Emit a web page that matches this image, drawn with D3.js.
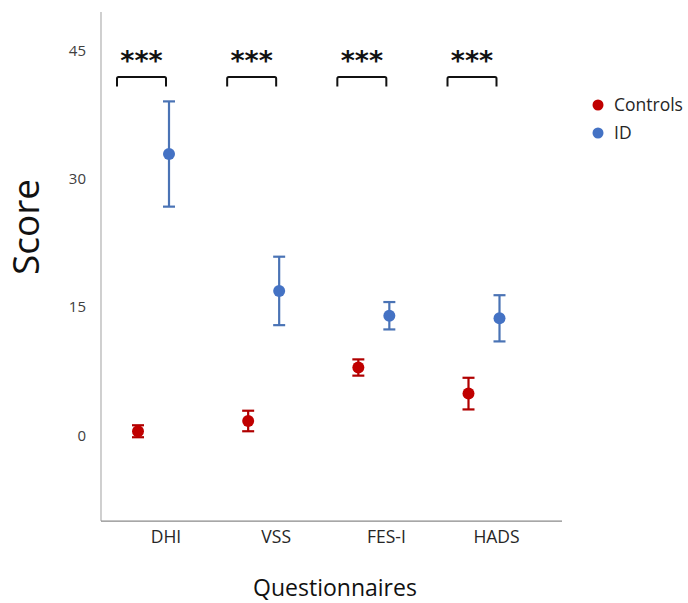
<!DOCTYPE html>
<html>
<head>
<meta charset="utf-8">
<script src="https://cdn.jsdelivr.net/npm/d3@7"></script>
<style>
  body { margin: 0; background: #fff; }
  svg text { font-family: 'Open Sans', sans-serif; }
</style>
</head>
<body>
<div id="chart"></div>
<script>
// データ
var categories = ['DHI', 'VSS', 'FES-I', 'HADS']
var seriesNames = ['Controls', 'ID']
var controlsMean = [0.5, 1.7, 7.95, 4.9]
var controlsErr = [0.7, 1.2, 0.95, 1.85]
var idMean = [32.9, 16.9, 14.0, 13.7]
var idErr = [6.15, 4.0, 1.6, 2.7]
var yTicks = [0, 15, 30, 45]
var sigLabels = ['***', '***', '***', '***']
var sigLevel = 41.9

var width = 688, height = 603
var colors = { Controls: '#C00000', ID: '#4472C4' }
var barColors = { Controls: '#B00000', ID: '#4A73B5' }

var svg = d3.select('#chart')
  .append('svg')
  .attr('width', width)
  .attr('height', height)

// スケール
var y = d3.scaleLinear().domain([-10, 50]).range([521.1, 7.7])
var x = d3.scalePoint().domain(categories).range([153.5, 484])
var xs = d3.scalePoint().domain(seriesNames).range([-15.5, 15.5])

var axisLeft = 101, axisRight = 562

// 軸線
svg.append('line')
  .attr('x1', axisLeft).attr('x2', axisLeft)
  .attr('y1', 12).attr('y2', y(-10))
  .attr('stroke', '#b0b0b0').attr('stroke-width', 1.2)

svg.append('line')
  .attr('x1', axisLeft).attr('x2', axisRight)
  .attr('y1', y(-10)).attr('y2', y(-10))
  .attr('stroke', '#8a8a8a').attr('stroke-width', 1.2)

// y tick labels
var yAxis = d3.axisLeft(y).tickValues(yTicks).tickSize(0).tickPadding(15)
var gy = svg.append('g')
  .attr('transform', 'translate(' + axisLeft + ',0)')
  .call(yAxis)
gy.select('.domain').remove()
gy.selectAll('text')
  .style('font-family', "'Open Sans', sans-serif")
  .style('font-size', '15px')
  .attr('fill', '#404040')

// x tick labels (ペアの中心より少し右)
var xAxis = d3.axisBottom(x).tickSize(0).tickPadding(9)
var gx = svg.append('g')
  .attr('transform', 'translate(12,' + y(-10) + ')')
  .call(xAxis)
gx.select('.domain').remove()
gx.selectAll('text')
  .style('font-family', "'Open Sans', sans-serif")
  .style('font-size', '17.5px')
  .attr('fill', '#262626')

// 軸タイトル
svg.append('text')
  .attr('x', 335)
  .attr('y', 596)
  .attr('text-anchor', 'middle')
  .style('font-size', '23px')
  .attr('fill', '#111')
  .text('Questionnaires')

svg.append('text')
  .attr('transform', 'translate(39,227) rotate(-90)')
  .attr('text-anchor', 'middle')
  .style('font-size', '37px')
  .attr('fill', '#111')
  .text('Score')

// データ点
var points = []
categories.forEach(function(c, i) {
  points.push({ cat: c, series: 'Controls', mean: controlsMean[i], err: controlsErr[i] })
  points.push({ cat: c, series: 'ID', mean: idMean[i], err: idErr[i] })
})

var pt = svg.selectAll('.pt')
  .data(points)
  .enter()
  .append('g')
  .attr('class', 'pt')
  .attr('transform', function(d) { return 'translate(' + (x(d.cat) + xs(d.series)) + ',0)' })

// error bars
pt.append('line')
  .attr('y1', function(d) { return y(d.mean + d.err) })
  .attr('y2', function(d) { return y(d.mean - d.err) })
  .attr('stroke', function(d) { return barColors[d.series] })
  .attr('stroke-width', 2.2)

pt.selectAll('.cap')
  .data(function(d) { return [d.mean + d.err, d.mean - d.err].map(function(v) { return { v: v, s: d.series } }) })
  .enter()
  .append('line')
  .attr('class', 'cap')
  .attr('x1', -6).attr('x2', 6)
  .attr('y1', function(d) { return y(d.v) })
  .attr('y2', function(d) { return y(d.v) })
  .attr('stroke', function(d) { return barColors[d.s] })
  .attr('stroke-width', 2.2)

pt.append('circle')
  .attr('cy', function(d) { return y(d.mean) })
  .attr('r', 6)
  .attr('fill', function(d) { return colors[d.series] })

// 有意差ブラケット
var sig = svg.selectAll('.sig')
  .data(categories)
  .enter()
  .append('g')
  .attr('class', 'sig')
  .attr('transform', function(d) { return 'translate(' + (x(d) - 12) + ',0)' })

sig.append('path')
  .attr('d', function(d) {
    var t = y(sigLevel)
    return 'M-24.5,' + (t + 9.5) + 'V' + (t + 1.5) + 'Q-24.5,' + t + ' -23,' + t +
      'H23Q24.5,' + t + ' 24.5,' + (t + 1.5) + 'V' + (t + 9.5)
  })
  .attr('fill', 'none')
  .attr('stroke', '#111')
  .attr('stroke-width', 2)

sig.append('text')
  .attr('y', y(sigLevel) - 7)
  .attr('text-anchor', 'middle')
  .style('font-family', "'DejaVu Sans', sans-serif")
  .style('font-size', '27px')
  .style('font-weight', 'bold')
  .attr('fill', '#111')
  .text(function(d, i) { return sigLabels[i] })

// 凡例
var legend = svg.selectAll('.legend')
  .data(seriesNames)
  .enter()
  .append('g')
  .attr('class', 'legend')
  .attr('transform', function(d, i) { return 'translate(598,' + (105 + i * 28) + ')' })

legend.append('circle')
  .attr('r', 5.5)
  .attr('fill', function(d) { return colors[d] })

legend.append('text')
  .attr('x', 16)
  .attr('dy', '0.35em')
  .style('font-size', '17.5px')
  .attr('fill', '#262626')
  .text(function(d) { return d })
</script>
</body>
</html>
